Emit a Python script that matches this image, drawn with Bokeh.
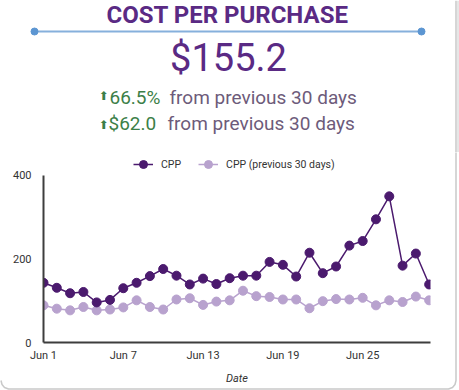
from bokeh.plotting import figure
from bokeh.models import Range1d, FixedTicker, Legend, LegendItem, ColumnDataSource
from bokeh.core.properties import value
from bokeh.embed import file_html
from bokeh.resources import INLINE

# ---- data ----
title_text = "COST PER PURCHASE"
kpi_text = "$155.2"
delta_pct = "66.5%"
delta_abs = "$62.0"
delta_suffix = "from previous 30 days"

days = list(range(1, 31))  # Jun 1 .. Jun 30
cpp = [143, 131, 118, 121, 96, 102, 130, 143, 159, 176, 160, 139, 153, 140, 154,
       160, 160, 193, 186, 158, 215, 166, 182, 232, 243, 295, 350, 184, 213, 139]
cpp_prev = [89, 81, 77, 85, 77, 79, 84, 101, 85, 79, 103, 106, 90, 98, 101,
            124, 111, 109, 103, 103, 82, 99, 104, 103, 107, 89, 101, 97, 110, 101]
x_ticks = [1, 7, 13, 19, 25]
x_tick_labels = ["Jun 1", "Jun 7", "Jun 13", "Jun 19", "Jun 25"]
y_ticks = [0, 200, 400]
series_names = ["CPP", "CPP (previous 30 days)"]

FONT = "Roboto"
PURPLE = "#5a2a84"
DARK = "#4b1a6e"
LIGHT = "#b8a2ce"
GREEN = "#3c7f48"
GRAY = "#6d5b7a"
EDGE = "#c9c9c9"
SHADOW = "#e6e6e6"

W = 459
HH = 152
CH = 238
FL, FR = 43, 430          # chart frame left / right (px)
FB = 342                  # chart frame bottom (px, page)

# ---- header (frame == whole canvas, y downward, px units) ----
h = figure(width=W, height=HH, x_range=Range1d(0, W), y_range=Range1d(HH, 0),
           x_axis_type=None, y_axis_type=None, toolbar_location=None, title=None,
           output_backend="svg", min_border=0,
           min_border_left=0, min_border_right=0, min_border_top=0, min_border_bottom=0)
h.outline_line_color = None
h.grid.visible = False

h.line(x=[455.5, 455.5], y=[0, HH], line_color=EDGE, line_width=1.5)
h.line(x=[457.5, 457.5], y=[0, HH], line_color=SHADOW, line_width=2)

h.text(x=[227], y=[14.5], text=[title_text], text_font=value(FONT), text_font_style="bold",
       text_font_size="24px", text_color=PURPLE, text_align="center", text_baseline="middle")

h.line(x=[34, 421], y=[31, 31], line_color="#86b0dc", line_width=2)
h.scatter(x=[34, 421], y=[31, 31], size=7, color="#5c96d2")

h.text(x=[228], y=[57], text=[kpi_text], text_font=value(FONT), text_font_size="38px",
       text_color=PURPLE, text_align="center", text_baseline="middle")

h.text(x=[103, 103], y=[95.5, 124], text=["⬆", "⬆"], text_font=value("DejaVu Sans"),
       text_font_size="12px", text_color=GREEN, text_align="center", text_baseline="middle")
h.text(x=[109, 108], y=[96.5, 123], text=[delta_pct, delta_abs], text_font=value(FONT),
       text_font_size="19px", text_color=GREEN, text_align="left", text_baseline="middle")
h.text(x=[169, 167], y=[96.5, 123], text=[delta_suffix, delta_suffix], text_font=value(FONT),
       text_font_size="19px", text_color=GRAY, text_align="left", text_baseline="middle")

# ---- chart ----
p = figure(width=W, height=CH, x_range=Range1d(1, 30.1), y_range=Range1d(0, 455),
           toolbar_location=None, output_backend="svg", title=None,
           min_border_left=FL, min_border_right=W - FR, min_border_top=0,
           min_border_bottom=HH + CH - FB)
p.outline_line_color = None
p.grid.visible = False

# card edge (page px coordinates, drawn unclipped)
p.extra_x_ranges = {"px": Range1d(FL, FR)}
p.extra_y_ranges = {"px": Range1d(FB, HH)}
edge_x = [455.5, 455.5, 454.5, 452, 448, 8, 4, 1.5, 0.5]
edge_y = [HH, 380, 384, 387, 388.5, 388.5, 387, 384, 380]
p.line(x=edge_x, y=edge_y, line_color=EDGE, line_width=1.5,
       x_range_name="px", y_range_name="px", level="overlay")

src = ColumnDataSource(dict(x=days, cpp=cpp, prev=cpp_prev))
l2 = p.line("x", "prev", source=src, line_color=LIGHT, line_width=1.5)
s2 = p.scatter("x", "prev", source=src, size=9, color=LIGHT)
l1 = p.line("x", "cpp", source=src, line_color=DARK, line_width=1.5)
s1 = p.scatter("x", "cpp", source=src, size=9, color=DARK)

for ax in (p.xaxis[0], p.yaxis[0]):
    ax.axis_line_color = "#3d3d3d"
    ax.axis_line_width = 2
    ax.major_tick_line_color = None
    ax.minor_tick_line_color = None
    ax.major_tick_out = 0
    ax.major_tick_in = 0
    ax.minor_tick_out = 0
    ax.minor_tick_in = 0
    ax.major_label_text_font = FONT
    ax.major_label_text_font_size = "11px"
    ax.major_label_text_color = "#333333"

p.yaxis.ticker = FixedTicker(ticks=y_ticks)
p.yaxis.bounds = (0, 400)
p.yaxis.major_label_standoff = 12

p.xaxis.ticker = FixedTicker(ticks=x_ticks)
p.xaxis.major_label_overrides = {t: lab for t, lab in zip(x_ticks, x_tick_labels)}
p.xaxis.major_label_standoff = 6
p.xaxis.axis_label = "Date"
p.xaxis.axis_label_text_font = FONT
p.xaxis.axis_label_text_font_style = "italic"
p.xaxis.axis_label_text_font_size = "11px"
p.xaxis.axis_label_text_color = "#333333"
p.xaxis.axis_label_standoff = 7

legend = Legend(items=[LegendItem(label=series_names[0], renderers=[l1, s1]),
                       LegendItem(label=series_names[1], renderers=[l2, s2])],
                orientation="horizontal", location=(90, 168), glyph_width=20, glyph_height=20,
                label_standoff=8, spacing=17, padding=0, margin=0,
                border_line_color=None, background_fill_alpha=0,
                label_text_font=FONT, label_text_font_size="10.5px", label_text_color="#333333")
p.add_layout(legend)

open("out.html", "w").write(file_html([h, p], INLINE))
